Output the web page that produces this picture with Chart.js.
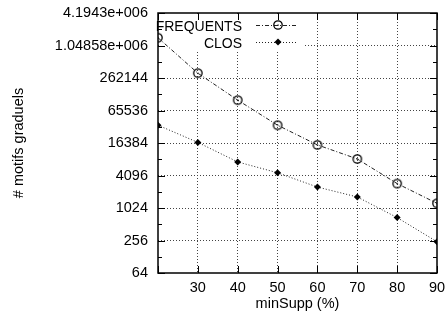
<!DOCTYPE html>
<html>
<head>
<meta charset="utf-8">
<script src="https://cdn.jsdelivr.net/npm/chart.js@4"></script>
<style>
  html, body { margin: 0; padding: 0; background: #fff; }
  #wrap { width: 448px; height: 325px; }
</style>
</head>
<body>
<div id="wrap"><canvas id="grafico" width="448" height="325"></canvas></div>
<script>
// données
const minSupp = [20, 30, 40, 50, 60, 70, 80, 90];
const frequents = [1460000, 322000, 102000, 35000, 15100, 8300, 2900, 1250];
const clos = [35000, 16800, 7300, 4600, 2500, 1640, 680, 243];
const yTicks = [64, 256, 1024, 4096, 16384, 65536, 262144, 1048576, 4194304];
const yTickLabels = ['64', '256', '1024', '4096', '16384', '65536', '262144', '1.04858e+006', '4.1943e+006'];
const xTicks = [20, 30, 40, 50, 60, 70, 80, 90];

const police = 'Liberation Sans, Arial, sans-serif';
Chart.defaults.font.family = police;
Chart.defaults.font.size = 14.5;
Chart.defaults.color = '#000';

// marqueur cercle avec point central (style gnuplot)
function cercle() {
  const c = document.createElement('canvas');
  c.width = 12; c.height = 12;
  const g = c.getContext('2d');
  g.strokeStyle = '#000';
  g.lineWidth = 1.3;
  g.beginPath(); g.arc(6, 6, 4.2, 0, Math.PI * 2); g.stroke();
  g.fillStyle = '#000';
  g.fillRect(5.5, 5.5, 1.2, 1.2);
  return c;
}
const marqueurCercle = cercle();

// cadre, graduations intérieures et légende
const cadre = {
  id: 'cadre',
  beforeDatasetsDraw(chart) {
    const { ctx, chartArea: a } = chart;
    ctx.save();
    // fond blanc de la légende
    ctx.fillStyle = '#fff';
    ctx.fillRect(a.left + 1, a.top + 1, 146, 37);
    ctx.restore();
  },
  afterDatasetsDraw(chart) {
    const { ctx, chartArea: a, scales } = chart;
    const x = scales.x, y = scales.y;
    ctx.save();
    ctx.strokeStyle = '#000';
    ctx.lineWidth = 1;
    ctx.beginPath();
    xTicks.forEach(v => {
      const px = Math.round(x.getPixelForValue(v)) + 0.5;
      ctx.moveTo(px, a.bottom); ctx.lineTo(px, a.bottom - 7);
      ctx.moveTo(px, a.top); ctx.lineTo(px, a.top + 7);
    });
    yTicks.forEach((v, i) => {
      const py = Math.round(y.getPixelForValue(v)) + 0.5;
      ctx.moveTo(a.left, py); ctx.lineTo(a.left + 7, py);
      ctx.moveTo(a.right, py); ctx.lineTo(a.right - 7, py);
      if (i < yTicks.length - 1) {
        const pm = Math.round(y.getPixelForValue(v * 2)) + 0.5;
        ctx.moveTo(a.left, pm); ctx.lineTo(a.left + 4, pm);
        ctx.moveTo(a.right, pm); ctx.lineTo(a.right - 4, pm);
      }
    });
    ctx.stroke();
    ctx.lineWidth = 1.5;
    ctx.strokeRect(a.left, a.top, a.right - a.left, a.bottom - a.top);

    // légende
    ctx.font = '14px ' + police;
    ctx.textAlign = 'right';
    ctx.textBaseline = 'alphabetic';
    const lignes = [
      { txt: 'FREQUENTS', y: a.top + 12, ds: chart.data.datasets[0] },
      { txt: 'CLOS', y: a.top + 29, ds: chart.data.datasets[1] }
    ];
    lignes.forEach(l => {
      ctx.fillStyle = '#000';
      ctx.fillText(l.txt, a.left + 84, l.y + 5.5);
      ctx.strokeStyle = '#222';
      ctx.lineWidth = 1;
      ctx.setLineDash(l.ds.borderDash);
      ctx.beginPath();
      ctx.moveTo(a.left + 98, l.y + 0.5); ctx.lineTo(a.left + 140, l.y + 0.5);
      ctx.stroke();
      ctx.setLineDash([]);
      const mx = a.left + 120;
      if (l.ds.pointStyle === 'rectRot') {
        ctx.fillStyle = '#000';
        ctx.beginPath();
        ctx.moveTo(mx, l.y - 3.5); ctx.lineTo(mx + 3.5, l.y);
        ctx.lineTo(mx, l.y + 3.5); ctx.lineTo(mx - 3.5, l.y);
        ctx.closePath(); ctx.fill();
      } else {
        ctx.drawImage(marqueurCercle, mx - 6, l.y - 6);
      }
    });
    ctx.restore();
  }
};

new Chart(document.getElementById('grafico').getContext('2d'), {
  type: 'line',
  data: {
    datasets: [
      {
        label: 'FREQUENTS',
        data: minSupp.map((v, i) => ({ x: v, y: frequents[i] })),
        borderColor: '#222',
        borderWidth: 1,
        borderDash: [4, 2, 1, 2],
        pointStyle: marqueurCercle,
        pointRadius: 5,
        fill: false,
        tension: 0
      },
      {
        label: 'CLOS',
        data: minSupp.map((v, i) => ({ x: v, y: clos[i] })),
        borderColor: '#222',
        borderWidth: 1,
        borderDash: [1, 2],
        pointStyle: 'rectRot',
        pointRadius: 3.5,
        pointBackgroundColor: '#000',
        pointBorderColor: '#000',
        pointBorderWidth: 0,
        fill: false,
        tension: 0
      }
    ]
  },
  options: {
    responsive: false,
    animation: false,
    events: [],
    layout: { padding: { top: 13, right: 11, left: 0, bottom: 0 } },
    plugins: { legend: { display: false }, tooltip: { enabled: false } },
    scales: {
      x: {
        type: 'linear',
        min: 20,
        max: 90,
        afterBuildTicks: s => { s.ticks = xTicks.map(v => ({ value: v })); },
        afterFit: s => { s.height = 52; s.paddingLeft = 0; s.paddingRight = 0; },
        ticks: {
          padding: 6,
          maxRotation: 0,
          callback: v => (v === 20 ? '' : String(v))
        },
        grid: {
          color: ctx => (ctx.tick && (ctx.tick.value === 20 || ctx.tick.value === 90) ? 'rgba(0,0,0,0)' : '#444'),
          lineWidth: 1,
          drawTicks: false
        },
        border: { display: false, dash: [1, 2] },
        title: { display: true, text: 'minSupp (%)', font: { size: 14.5 }, padding: { top: 0, bottom: 12 } }
      },
      y: {
        type: 'logarithmic',
        min: 64,
        max: 4194304,
        afterBuildTicks: s => { s.ticks = yTicks.map(v => ({ value: v })); },
        afterFit: s => { s.width = 158; s.paddingTop = 0; s.paddingBottom = 0; },
        ticks: {
          padding: 10,
          callback: v => yTickLabels[yTicks.indexOf(v)]
        },
        grid: {
          color: ctx => (ctx.tick && (ctx.tick.value === 64 || ctx.tick.value === 4194304) ? 'rgba(0,0,0,0)' : '#444'),
          lineWidth: 1,
          drawTicks: false
        },
        border: { display: false, dash: [1, 2] },
        title: { display: true, text: '# motifs graduels', font: { size: 14.5 }, padding: { bottom: 0, top: 10 } }
      }
    }
  },
  plugins: [cadre]
});
</script>
</body>
</html>
